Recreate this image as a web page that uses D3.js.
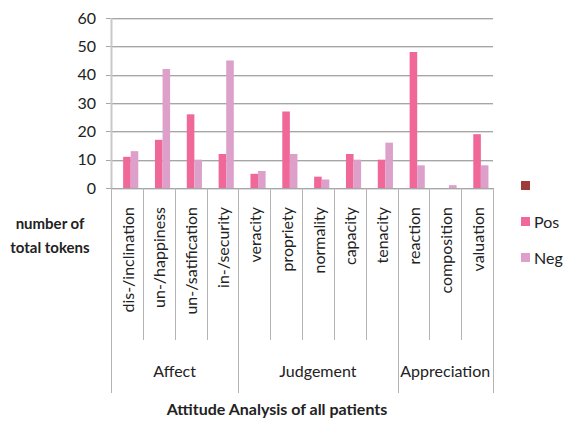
<!DOCTYPE html>
<html lang="en">
<head>
  <meta charset="UTF-8">
  <title>Attitude Analysis of all patients</title>
  <script src="https://d3js.org/d3.v7.min.js"></script>
  <style>
    body { margin: 0; background: #fff; }
    text { font-family: Lato, "Open Sans", sans-serif; fill: #222; }
    .grid line { stroke: #a6a6a6; stroke-width: 1px; }
    .grid .shadow { stroke: #dedede; }
    .divider { stroke: #b4b4b4; stroke-width: 1px; }
    .title { font-weight: bold; font-size: 15px; }
  </style>
</head>
<body>
  <script>
    // Data
    const categories = ["dis-/inclination", "un-/happiness", "un-/satification", "in-/security",
      "veracity", "propriety", "normality", "capacity", "tenacity",
      "reaction", "composition", "valuation"];
    const groups = [
      { name: "Affect", start: 0, end: 4 },
      { name: "Judgement", start: 4, end: 9 },
      { name: "Appreciation", start: 9, end: 12 }
    ];
    const series = ["", "Pos", "Neg"];
    const blankValues = [null, null, null, null, null, null, null, null, null, null, null, null];
    const posValues = [11, 17, 26, 12, 5, 27, 4, 12, 10, 48, 0, 19];
    const negValues = [13, 42, 10, 45, 6, 12, 3, 10, 16, 8, 1, 8];
    const yTicks = [0, 10, 20, 30, 40, 50, 60];

    const colors = ["#9e3b3b", "#f0679a", "#dca0ca"];
    const values = [blankValues, posValues, negValues];

    const width = 568, height = 421;
    const plotLeft = 111, plotRight = 493, plotTop = 18, plotBottom = 188;

    const svg = d3.select("body").append("svg")
      .attr("width", width)
      .attr("height", height);

    const x = d3.scaleBand()
      .domain(d3.range(categories.length))
      .range([plotLeft, plotRight]);

    const x1 = d3.scaleBand()
      .domain(d3.range(series.length))
      .range([0, x.bandwidth()])
      .paddingOuter(0.6);

    const y = d3.scaleLinear()
      .domain([0, 60])
      .range([plotBottom, plotTop]);

    // Gridlines
    const grid = svg.append("g").attr("class", "grid");
    yTicks.forEach(t => {
      grid.append("line").attr("class", "shadow")
        .attr("x1", plotLeft).attr("x2", plotRight)
        .attr("y1", Math.round(y(t)) + 1.5).attr("y2", Math.round(y(t)) + 1.5);
      grid.append("line")
        .attr("x1", plotLeft - 5).attr("x2", plotRight)
        .attr("y1", Math.round(y(t)) + 0.5).attr("y2", Math.round(y(t)) + 0.5);
    });

    // Y tick labels
    svg.append("g").selectAll("text")
      .data(yTicks)
      .join("text")
      .attr("x", 96)
      .attr("y", d => y(d))
      .attr("dy", "0.35em")
      .attr("text-anchor", "end")
      .style("font-size", "16px")
      .text(d => d);

    // Y axis line
    svg.append("line")
      .attr("x1", plotLeft + 0.5).attr("x2", plotLeft + 0.5)
      .attr("y1", plotTop).attr("y2", plotBottom)
      .attr("stroke", "#c8c8c8").attr("stroke-width", 2);

    // Bars
    series.forEach((s, si) => {
      svg.append("g").selectAll("rect")
        .data(values[si].map((v, i) => ({ i, v })).filter(d => d.v !== null))
        .join("rect")
        .attr("x", d => x(d.i) + x1(si))
        .attr("y", d => y(d.v))
        .attr("width", x1.bandwidth())
        .attr("height", d => plotBottom - y(d.v))
        .attr("fill", colors[si]);
    });

    // Category dividers
    const groupEdges = new Set();
    groups.forEach(g => { groupEdges.add(g.start); groupEdges.add(g.end); });
    d3.range(categories.length + 1).forEach(i => {
      const xp = Math.round(i < categories.length ? x(i) : plotRight) + 0.5;
      svg.append("line")
        .attr("class", "divider")
        .attr("x1", xp).attr("x2", xp)
        .attr("y1", plotBottom)
        .attr("y2", groupEdges.has(i) ? 393 : 340);
    });

    // Category labels
    svg.append("g").selectAll("text")
      .data(categories)
      .join("text")
      .attr("transform", (d, i) => `translate(${x(i) + x.bandwidth() / 2 + 1},207) rotate(-90)`)
      .attr("dy", "0.35em")
      .attr("text-anchor", "end")
      .style("font-size", "16px")
      .text(d => d);

    // Group labels
    svg.append("g").selectAll("text")
      .data(groups)
      .join("text")
      .attr("x", d => ((d.start === 0 ? plotLeft : x(d.start)) + (d.end < categories.length ? x(d.end) : plotRight)) / 2)
      .attr("y", 377)
      .attr("text-anchor", "middle")
      .style("font-size", "16px")
      .text(d => d.name);

    // Axis titles
    svg.append("text").attr("class", "title")
      .attr("x", 50).attr("y", 229).attr("text-anchor", "middle")
      .text("number of");
    svg.append("text").attr("class", "title")
      .attr("x", 50).attr("y", 253).attr("text-anchor", "middle")
      .text("total tokens");
    svg.append("text").attr("class", "title")
      .attr("x", 277).attr("y", 415).attr("text-anchor", "middle")
      .style("font-size", "16px")
      .text("Attitude Analysis of all patients");

    // Legend
    const legend = svg.append("g").selectAll("g")
      .data(series)
      .join("g")
      .attr("transform", (d, i) => `translate(521,${181 + i * 36})`);
    legend.append("rect")
      .attr("width", 9).attr("height", 9)
      .attr("fill", (d, i) => colors[i]);
    legend.append("text")
      .attr("x", 13).attr("y", 5)
      .attr("dy", "0.35em")
      .style("font-size", "16px")
      .text(d => d);
  </script>
</body>
</html>
